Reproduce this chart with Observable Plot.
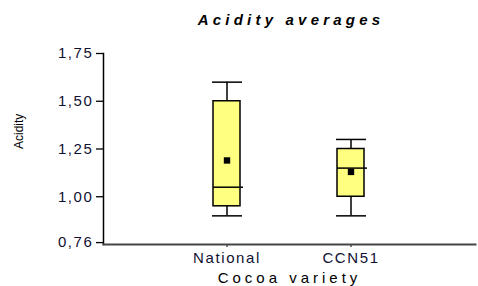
<!DOCTYPE html>
<html>
<head>
<meta charset="utf-8">
<script src="https://cdn.jsdelivr.net/npm/d3@7"></script>
<script src="https://cdn.jsdelivr.net/npm/@observablehq/plot@0.6"></script>
<style>
  body { margin: 0; background: #fff; }
  #wrap { position: relative; width: 478px; height: 286px; font-family: "Liberation Sans", Arial, sans-serif; }
  #title { position: absolute; left: 103px; width: 376px; top: 11px; text-align: center; font-weight: bold; font-style: italic; font-size: 15px; letter-spacing: 4.2px; color: #000; }
  g[aria-label="x-axis label"] text { letter-spacing: 4px; }
  g[aria-label="y-axis tick label"] text, g[aria-label="x-axis tick label"] text { letter-spacing: 1.6px; fill: #111133; }
</style>
</head>
<body>
<div id="wrap"><div id="title">Acidity averages</div></div>
<script>
const varieties = ["National", "CCN51"];
const whiskerLow = [0.90, 0.90];
const q1 = [0.95, 1.00];
const median = [1.05, 1.15];
const q3 = [1.50, 1.25];
const whiskerHigh = [1.60, 1.30];
const mean = [1.19, 1.13];
const yTicks = [0.76, 1.00, 1.25, 1.50, 1.75];
const yTickLabels = ["0,76", "1,00", "1,25", "1,50", "1,75"];

const data = varieties.map((v, i) => ({
  variety: v, lo: whiskerLow[i], q1: q1[i], med: median[i], q3: q3[i], hi: whiskerHigh[i], mean: mean[i]
}));

const chart = Plot.plot({
  width: 478,
  height: 286,
  marginLeft: 103,
  marginRight: 3,
  marginTop: 53,
  marginBottom: 42,
  style: { fontFamily: "Liberation Sans, Arial, sans-serif", fontSize: "15px", color: "#000", background: "transparent" },
  x: { domain: varieties, paddingInner: 0.78, paddingOuter: 0.89, label: null },
  y: { domain: [0.75, 1.75], label: null },
  marks: [
    Plot.axisY({ ticks: yTicks, tickFormat: (d) => yTickLabels[yTicks.indexOf(d)], tickSize: 7, tickPadding: 3, stroke: "#000", strokeWidth: 1.3, fontSize: 15, label: null }),
    Plot.text(["Acidity"], { frameAnchor: "left", dx: -84, rotate: -90, fontSize: 12, fill: "#000" }),
    Plot.axisX({ tickSize: 3, tickPadding: 5, stroke: "#000", fontSize: 15, label: "Cocoa variety", labelAnchor: "center", labelOffset: 38, labelArrow: false }),
    Plot.frame({ anchor: "left", stroke: "#000", strokeWidth: 1.5 }),
    Plot.frame({ anchor: "bottom", stroke: "#444", strokeWidth: 2 }),
    Plot.ruleX(data, { x: "variety", y1: "lo", y2: "hi", stroke: "#000", strokeWidth: 1.5 }),
    Plot.tickY(data, { x: "variety", y: "lo", stroke: "#000", strokeWidth: 1.5, insetLeft: -1, insetRight: -2 }),
    Plot.tickY(data, { x: "variety", y: "hi", stroke: "#000", strokeWidth: 1.5, insetLeft: -1, insetRight: -2 }),
    Plot.barY(data, { x: "variety", y1: "q1", y2: "q3", fill: "#ffff80", stroke: "#000", strokeWidth: 1.5 }),
    Plot.tickY(data, { x: "variety", y: "med", stroke: "#000", strokeWidth: 1.5, insetRight: -3 }),
    Plot.dot(data, { x: "variety", y: "mean", symbol: "square", r: 3.6, fill: "#000", stroke: "none" })
  ]
});
document.getElementById("wrap").prepend(chart);
</script>
</body>
</html>
